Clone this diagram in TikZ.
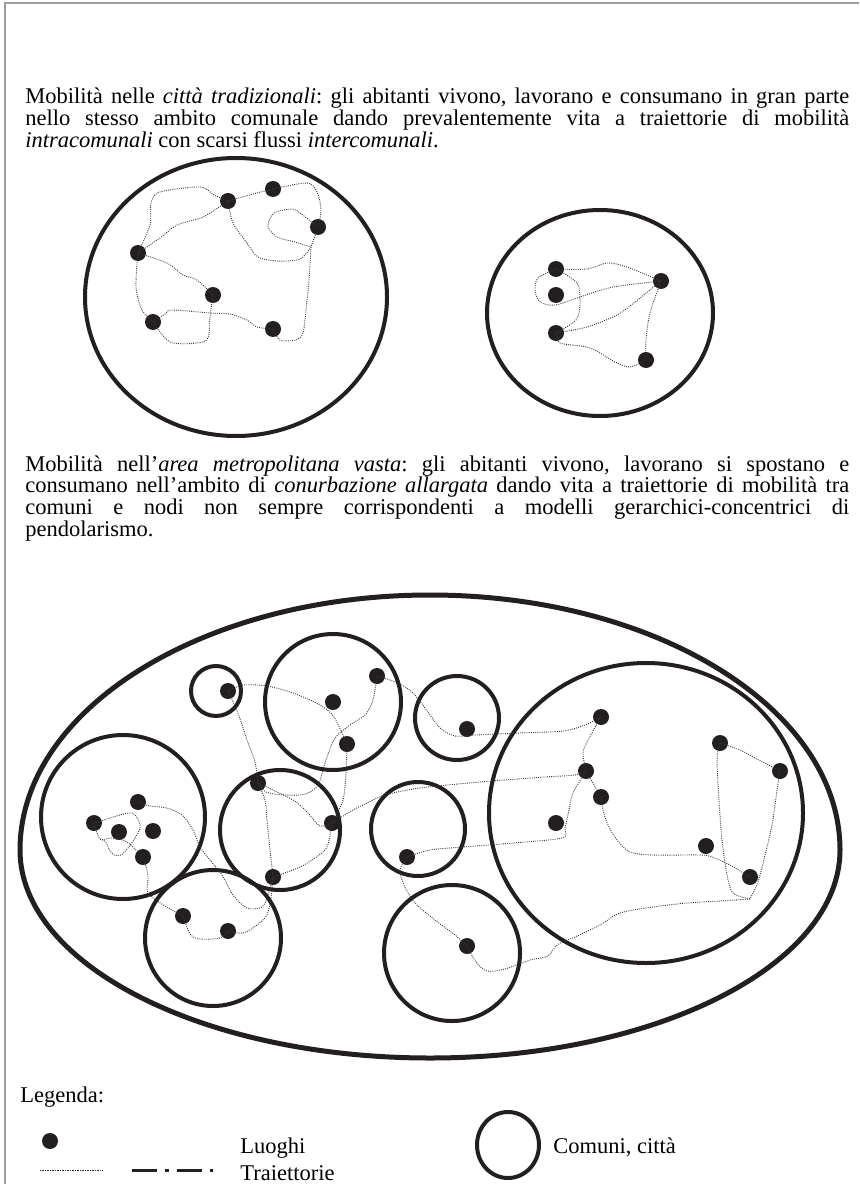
\documentclass[tikz,border=0pt]{standalone}
\usepackage{fontspec}
\setmainfont{Liberation Serif}
\definecolor{inkblack}{HTML}{231F20}

\begin{document}
\frenchspacing
\begin{tikzpicture}[x=0.6pt,y=-0.6pt,
		luogo/.style={circle,fill=inkblack,inner sep=0pt,minimum size=9.6pt},
		comune/.style={draw=inkblack,line width=2.4pt},
		area/.style={draw=inkblack,line width=3pt},
		traj/.style={draw=inkblack!90,line width=0.55pt,dash pattern=on 0.55pt off 0.75pt},
		txt/.style={anchor=base west,inner sep=0pt,font=\fontsize{13.5pt}{13pt}\selectfont},
		para/.style={txt,text width=494.4pt,align=justify}]
			\useasboundingbox (0,0) rectangle (859,1184);
			\draw[gray!75,line width=1pt] (5,1184) -- (5,3) -- (859,3);

			\node[para] (p1) at (25,104) {\hyphenpenalty=10000 Mobilità nelle \textit{città tradizionali}: gli abitanti vivono, lavorano e consumano in gran parte\linebreak nello stesso ambito comunale dando prevalentemente vita a traiettorie di mobilità\linebreak \textit{intracomunali} con scarsi flussi \textit{intercomunali}.};

			\node[luogo] (a) at (228,201) {};
			\node[luogo] (b) at (273,189) {};
			\node[luogo] (c) at (318,227) {};
			\node[luogo] (d) at (138,253) {};
			\node[luogo] (e) at (213,295) {};
			\node[luogo] (f) at (153,322) {};
			\node[luogo] (g) at (273,329) {};
			\coordinate (j) at (311,247);
			\draw[comune] (236,297) ellipse [x radius=151, y radius=139];
			\draw[traj] plot[smooth] coordinates {(d) (150,225) (151,203) (160,192) (200,187) (214,195) (a)};
			\draw[traj] plot[smooth] coordinates {(a) (233,223) (247,243) (258,257) (278,261) (300,259) (j)};
			\draw[traj] plot[smooth] coordinates {(d) (160,238) (177,225) (203,217) (a)};
			\draw[traj] plot[smooth] coordinates {(a) (253,194) (b)};
			\draw[traj] plot[smooth] coordinates {(b) (307,183) (317,192) (321,210) (c)};
			\draw[traj] plot[smooth] coordinates {(c) (300,213) (292,209) (274,213) (268,226) (277,237) (295,242) (j)};
			\draw[traj] (c) -- (j);
			\draw[traj] plot[smooth] coordinates {(j) (309,280) (306,310) (303,333) (296,340) (280,340) (g)};
			\draw[traj] plot[smooth] coordinates {(g) (257,327) (247,320) (230,314) (210,313) (172,310) (165,314) (f)};
			\draw[traj] plot[smooth] coordinates {(f) (170,342) (197,343) (208,338) (210,317) (e)};
			\draw[traj] plot[smooth] coordinates {(d) (167,263) (183,275) (197,280) (e)};
			\draw[traj] plot[smooth] coordinates {(d) (136,287) (142,310) (f)};

			\node[luogo] (h) at (556,269) {};
			\node[luogo] (i) at (556,295) {};
			\node[luogo] (k) at (556,333) {};
			\node[luogo] (l) at (661,281) {};
			\node[luogo] (m) at (646,360) {};
			\draw[comune] (600,313) ellipse [x radius=113, y radius=103];
			\draw[traj] plot[smooth] coordinates {(h) (587,269) (607,263) (627,267) (l)};
			\draw[traj] plot[smooth] coordinates {(h) (538,278) (535,290) (539,301) (549,305) (560,304) (580,297) (613,287) (l)};
			\draw[traj] plot[smooth] coordinates {(h) (577,283) (580,303) (576,320) (k)};
			\draw[traj] plot[smooth] coordinates {(k) (587,327) (617,315) (635,302) (l)};
			\draw[traj] plot[smooth] coordinates {(l) (650,313) (646,340) (m)};
			\draw[traj] plot[smooth] coordinates {(k) (560,343) (587,347) (600,353) (615,362) (630,367) (m)};

			\node[para] (p2) at (25,471) {\hyphenpenalty=10000 Mobilità nell'\textit{area metropolitana vasta}: gli abitanti vivono, lavorano si spostano e\linebreak consumano nell'ambito di \textit{conurbazione allargata} dando vita a traiettorie di mobilità tra\linebreak comuni e nodi non sempre corrispondenti a modelli gerarchici-concentrici di\linebreak pendolarismo.};

			\draw[area] (840,850) arc[start angle=0, end angle=-180, x radius=410, y radius=255]
				arc[start angle=180, end angle=0, x radius=410, y radius=208] -- cycle;
			\draw[comune] (216,691) circle [radius=25];
			\draw[comune] (333,702) circle [radius=68];
			\draw[comune] (123,817) circle [radius=82];
			\draw[comune] (280,830) circle [radius=60];
			\draw[comune] (418,829) circle [radius=47];
			\draw[comune] (457,718) circle [radius=42];
			\draw[comune] (646,813) ellipse [x radius=157, y radius=150];
			\draw[comune] (213,938) circle [radius=68];
			\draw[comune] (452,953) circle [radius=68];

			\node[luogo] (l1) at (138,802) {};
			\node[luogo] (l2) at (94,823) {};
			\node[luogo] (l3) at (119,832) {};
			\node[luogo] (l4) at (153,831) {};
			\node[luogo] (l5) at (143,857) {};
			\node[luogo] (t1) at (228,691) {};
			\node[luogo] (m1) at (333,702) {};
			\node[luogo] (m2) at (377,676) {};
			\node[luogo] (m3) at (347,744) {};
			\node[luogo] (c1) at (258,783) {};
			\node[luogo] (c2) at (332,823) {};
			\node[luogo] (c3) at (273,877) {};
			\node[luogo] (v1) at (467,729) {};
			\node[luogo] (w1) at (407,857) {};
			\node[luogo] (g1) at (601,717) {};
			\node[luogo] (g2) at (586,771) {};
			\node[luogo] (g3) at (601,797) {};
			\node[luogo] (g4) at (556,823) {};
			\node[luogo] (g5) at (720,743) {};
			\node[luogo] (g6) at (780,771) {};
			\node[luogo] (g7) at (706,846) {};
			\node[luogo] (g8) at (750,877) {};
			\node[luogo] (b1) at (183,916) {};
			\node[luogo] (b2) at (228,931) {};
			\node[luogo] (z1) at (467,946) {};
			\coordinate (kr) at (100,839);
			\coordinate (kb) at (750,899);

			\draw[traj] plot[smooth] coordinates {(l2) (107,819) (120,815) (132,813) (138,819) (140,828) (135,838) (128,848) (121,855) (114,855) (109,849) (106,842) (kr)};
			\draw[traj] plot[smooth] coordinates {(l2) (kr) (112,838) (127,842) (l5)};
			\draw[traj] plot[smooth] coordinates {(l1) (150,806) (167,808) (182,815) (193,830) (200,847) (210,860) (222,875) (233,895) (247,908) (262,907) (268,895) (c3)};
			\draw[traj] plot[smooth] coordinates {(l5) (148,875) (148,893) (165,906) (b1)};
			\draw[traj] plot[smooth] coordinates {(b1) (190,934) (200,939) (220,938) (b2)};
			\draw[traj] plot[smooth] coordinates {(b2) (243,933) (257,925) (267,915) (271,898) (c3)};
			\draw[traj] plot[smooth] coordinates {(t1) (243,685) (267,686) (293,693) (320,705) (334,717) (m3)};
			\draw[traj] plot[smooth] coordinates {(m2) (373,700) (365,715) (350,725) (335,738) (326,760) (318,785) (305,794) (285,795) (266,792) (c1)};
			\draw[traj] plot[smooth] coordinates {(m3) (346,773) (343,800) (c2)};
			\draw[traj] plot[smooth] coordinates {(t1) (238,713) (247,740) (255,762) (c1)};
			\draw[traj] plot[smooth] coordinates {(m2) (398,683) (413,693) (428,712) (440,728) (455,736) (475,735) (520,733) (563,731) (585,725) (g1)};
			\draw[traj] plot[smooth] coordinates {(c1) (265,800) (267,820) (270,850) (c3)};
			\draw[traj] plot[smooth] coordinates {(c1) (293,800) (307,812) (320,826) (c2)};
			\draw[traj] plot[smooth] coordinates {(c2) (327,847) (315,858) (298,868) (c3)};
			\draw[traj] plot[smooth] coordinates {(c2) (353,810) (367,803) (385,795) (420,788) (480,782) (545,777) (575,775) (g2)};
			\draw[traj] plot[smooth] coordinates {(g1) (588,740) (583,753) (g2)};
			\draw[traj] plot[smooth] coordinates {(g2) (573,793) (569,810) (565,828) (562,838) (513,843) (463,847) (430,850) (w1)};
			\draw[traj] (g2) -- (g3);
			\draw[traj] plot[smooth] coordinates {(g3) (603,810) (608,825) (617,840) (630,852) (653,855) (700,855) (712,857) (730,865) (g8)};
			\draw[traj] plot[smooth] coordinates {(g5) (740,750) (755,758) (g6)};
			\draw[traj] plot[smooth] coordinates {(g5) (717,760) (719,800) (722,840) (727,875) (733,893) (kb)};
			\draw[traj] plot[smooth] coordinates {(g6) (777,790) (772,825) (765,855) (758,882) (kb)};
			\draw[traj] plot[smooth] coordinates {(kb) (720,901) (687,903) (653,907) (620,913) (600,925) (575,937) (557,945) (548,956) (530,960) (505,969) (487,971) (476,962) (z1)};
			\draw[traj] plot[smooth] coordinates {(w1) (400,870) (404,885) (415,903) (435,920) (455,935) (z1)};

			\node[txt] (leg) at (20,1102) {Legenda:};
			\node[luogo] (ll) at (50,1141) {};
			\coordinate (d1) at (40,1170);
			\coordinate (d2) at (102,1170);
			\draw[draw=inkblack,line width=0.4pt,dash pattern=on 0.4pt off 0.6pt] (d1) -- (d2);
			\coordinate (e1) at (132,1170);
			\coordinate (e2) at (213,1170);
			\draw[inkblack,line width=1.8pt,dash pattern=on 15pt off 5pt on 2pt off 5pt] (e1) -- (e2);
			\node[txt] (luoghi) at (240,1153) {Luoghi};
			\node[txt] (traiet) at (240,1180) {Traiettorie};
			\draw[comune] (508,1145) ellipse [x radius=31, y radius=33];
			\node[txt] (comuni) at (553,1153) {Comuni, città};
		\end{tikzpicture}
\end{document}
